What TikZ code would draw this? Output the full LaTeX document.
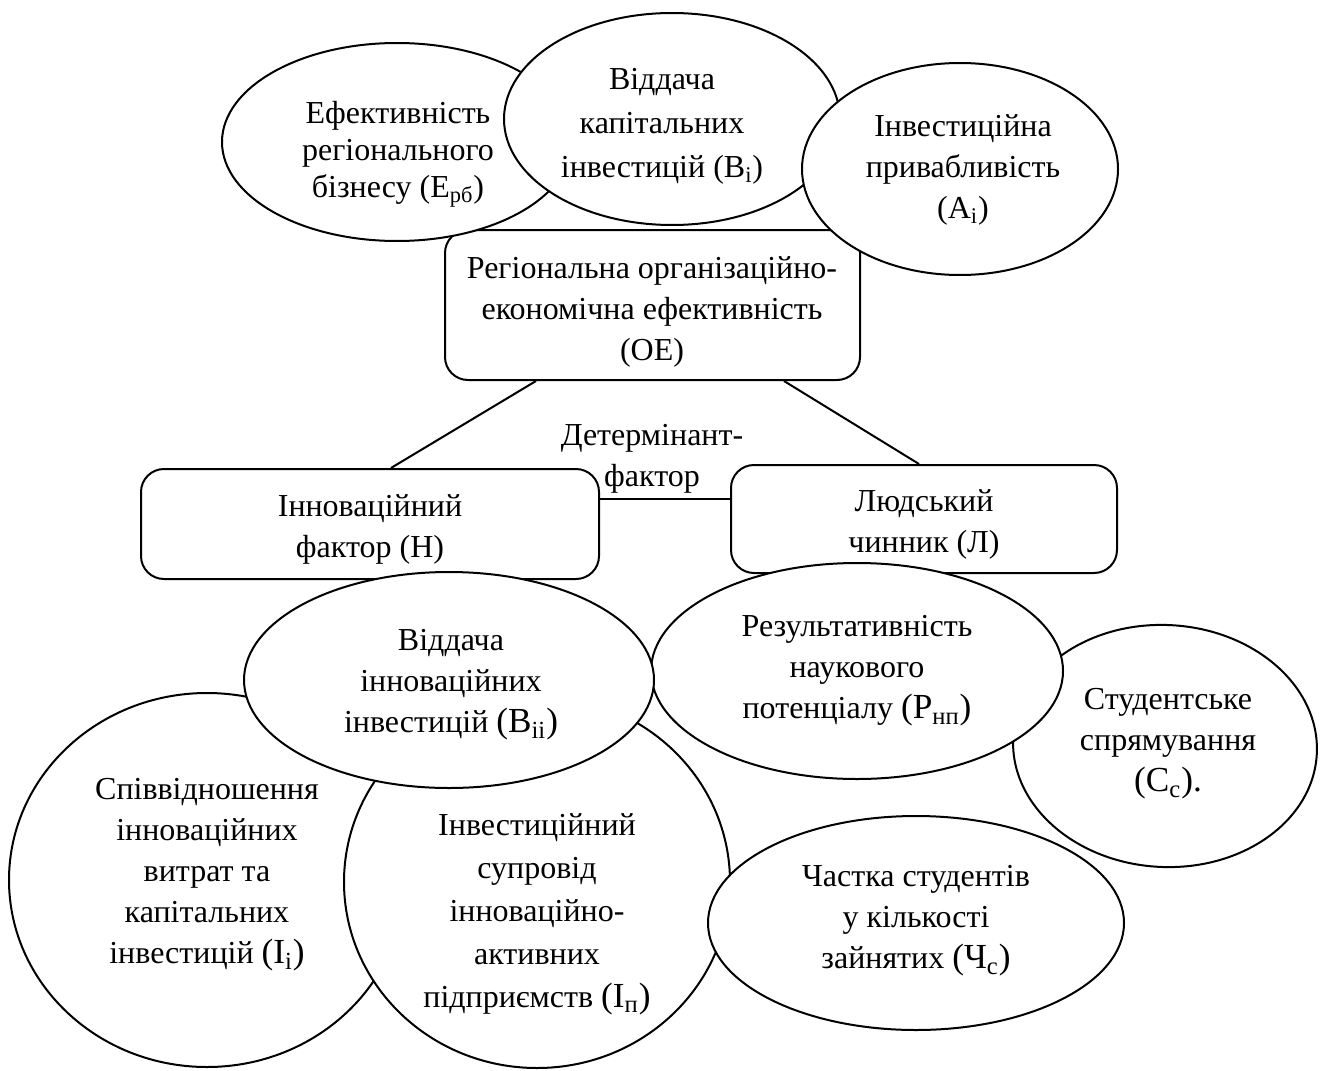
\documentclass[tikz,border=0pt]{standalone}
\usepackage{fontspec}
\setmainfont{Liberation Serif}
\usetikzlibrary{shapes.geometric}
\newcommand{\lidx}[1]{\textsubscript{#1}}
\newcommand{\bigpar}[1]{{\fontsize{17.6}{20.5}\selectfont #1}}
\begin{document}
\begin{tikzpicture}[x=0.5pt,y=-0.5pt, line width=1pt,
  every node/.style={font=\fontsize{16}{20.5}\selectfont, align=center, inner sep=0pt},
  ell/.style={ellipse, draw, fill=white},
  rbox/.style={rectangle, rounded corners=11.5pt, draw, fill=white},
  txt/.style={}]
\useasboundingbox[fill=white] (0,0) rectangle (1332,1070);

% central box
\node[rbox, minimum width=207.5pt, minimum height=75pt] (oe) at (652.5,305) {};
\node[txt] (oet) at (652,312) {Регіональна організаційно-\\економічна ефективність\\(ОЕ)};

% top ellipses
\node[ell, minimum width=175pt, minimum height=99pt] (erb) at (397,142) {};
\node[txt, font=\fontsize{16}{18.5}\selectfont] (erbt) at (398,154)
  {Ефективність\\регіонального\\бізнесу (Е\lidx{рб})};
\node[ell, minimum width=168pt, minimum height=106pt] (vk) at (672,119) {};
\node[txt, font=\fontsize{16}{22}\selectfont] (vkt) at (662,126)
  {Віддача\\капітальних\\інвестицій (В\lidx{i})};
\node[ell, minimum width=158pt, minimum height=106pt] (ai) at (960,169) {};
\node[txt] (ait) at (963,170) {Інвестиційна\\привабливість\\(А\lidx{i})};

% factor boxes and connectors
\node[rbox, minimum width=229pt, minimum height=55pt] (inn) at (370,524) {};
\node[txt] (innt) at (370,529) {Інноваційний\\фактор (Н)};
\node[rbox, minimum width=193pt, minimum height=54pt] (lud) at (924,519) {};
\node[txt] (ludt) at (924,524) {Людський\\чинник (Л)};
\draw ([xshift=46pt]oe.south west) -- ([xshift=125.5pt]inn.north west);
\draw ([xshift=-38.5pt]oe.south east) -- ([xshift=94.5pt]lud.north west);
\draw ([yshift=12.5pt]inn.east) -- ([yshift=10pt]lud.west);
\node[txt] (det) at (652,459) {Детермінант-\\фактор};

% lower right ellipses
\node[ell, rotate=-3, minimum width=152pt, minimum height=121pt] (cc) at (1165,746) {};
\node[txt] (cct) at (1168,744) {Студентське\\спрямування\\\bigpar{(С\lidx{с}).}};
\node[ell, minimum width=206pt, minimum height=108pt] (rnp) at (857,671) {};
\node[txt] (rnpt) at (857,671) {Результативність\\наукового\\потенціалу \bigpar{(Р\lidx{нп})}};

% lower left ellipses
\node[ell, minimum width=198pt, minimum height=187pt] (ii) at (207,880) {};
\node[txt] (iit) at (207,875)
  {Співвідношення\\інноваційних\\витрат та\\капітальних\\інвестицій \bigpar{(І\lidx{i})}};
\node[ell, minimum width=193pt, minimum height=186pt] (ip) at (537,882) {};
\node[txt, font=\fontsize{16}{21.5}\selectfont] (ipt) at (537,914)
  {Інвестиційний\\супровід\\інноваційно-\\активних\\підприємств \bigpar{(І\lidx{п})}};
\node[ell, minimum width=205pt, minimum height=108pt] (bii) at (449,680) {};
\node[txt] (biit) at (451,685) {Віддача\\інноваційних\\інвестицій \bigpar{(В\lidx{ii})}};
\node[ell, minimum width=208pt, minimum height=107pt] (chs) at (916,923) {};
\node[txt] (chst) at (916,921) {Частка студентів\\у кількості\\зайнятих \bigpar{(Ч\lidx{с})}};
\end{tikzpicture}
\end{document}
